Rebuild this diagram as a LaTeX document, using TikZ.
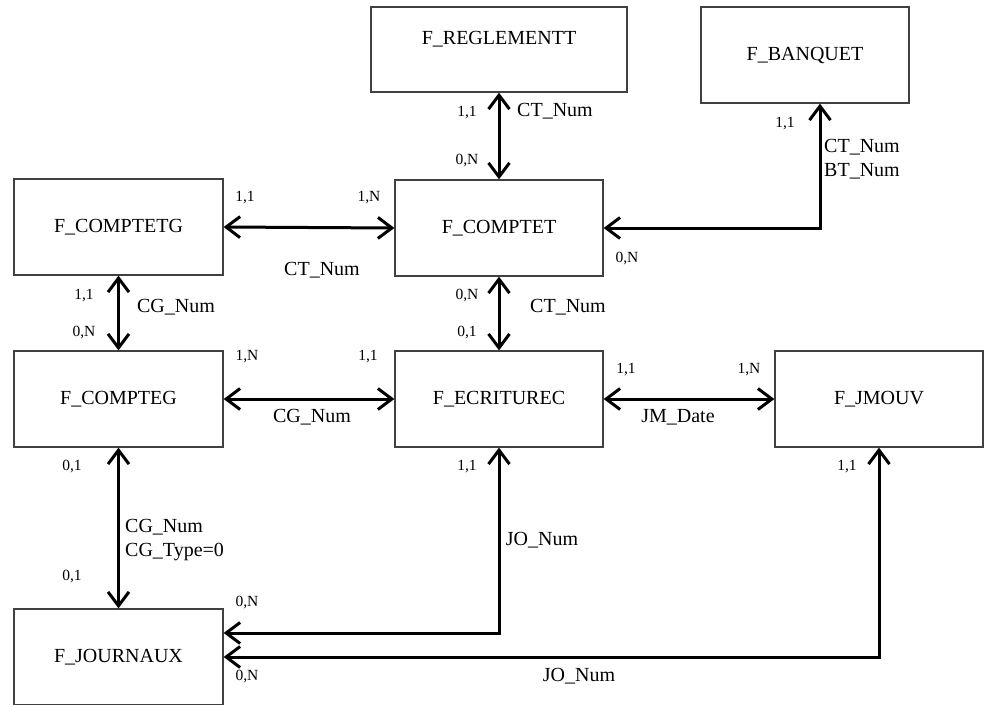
\documentclass[tikz,border=0pt]{standalone}
\usepackage{fontspec}
\setmainfont{Liberation Serif}
\usetikzlibrary{arrows.meta}
\tikzset{
  table/.style={draw=black!75, line width=1.2pt, rectangle, minimum width=209pt, minimum height=96pt, font=\fontsize{20}{22}\selectfont},
  card/.style={inner sep=0pt, font=\fontsize{15.5}{16}\selectfont},
  attr/.style={inner sep=0pt, font=\fontsize{20}{24}\selectfont, align=left},
  link/.style={line width=3pt, {Straight Barb[length=14pt,width=21pt]}-{Straight Barb[length=14pt,width=21pt]}},
}
\begin{document}
\begin{tikzpicture}[x=1pt,y=-1pt]
\useasboundingbox (0,0) rectangle (984,704);
\node[table, minimum width=256pt, minimum height=85pt, text depth=23pt] (reg) at (499,49.5) {F\_REGLEMENTT};
\node[table, minimum width=208pt] (banq) at (805,55) {F\_BANQUET};
\node[table] (ctg) at (118.5,227) {F\_COMPTETG};
\node[table, minimum width=208pt] (ct) at (499,228) {F\_COMPTET};
\node[table] (cg) at (118.5,399) {F\_COMPTEG};
\node[table, minimum width=208pt] (ec) at (499,399) {F\_ECRITUREC};
\node[table, minimum width=208pt] (jm) at (879,399) {F\_JMOUV};
\node[table] (jo) at (118.5,657) {F\_JOURNAUX};

\path[draw,link] (reg.south) -- (ct.north);
\path[draw,link] ([xshift=15pt]banq.south) |- (ct.east);
\path[draw,link] (ctg.east) -- (ct.west);
\path[draw,link] (ctg.south) -- (cg.north);
\path[draw,link] (ct.south) -- (ec.north);
\path[draw,link] (cg.east) -- (ec.west);
\path[draw,link] (ec.east) -- (jm.west);
\path[draw,link] (cg.south) -- (jo.north);
\path[draw,link] (ec.south) |- ([yshift=24pt]jo.east);
\path[draw,link] (jm.south) |- (jo.east);

\node[card] (c1) at (467,113) {1,1};
\node[card] (c2) at (467,161) {0,N};
\node[attr] (a1) at (555,111) {CT\_Num};
\node[card] (c3) at (785,124) {1,1};
\node[attr, anchor=west] (a2) at (824,159.5) {CT\_Num\\BT\_Num};
\node[card] (c4) at (627,259) {0,N};
\node[card] (c5) at (245,198) {1,1};
\node[card] (c6) at (369,198) {1,N};
\node[attr] (a3) at (322,270) {CT\_Num};
\node[card] (c7) at (84,296) {1,1};
\node[card] (c8) at (84,333) {0,N};
\node[attr] (a4) at (176,307) {CG\_Num};
\node[card] (c9) at (467,296) {0,N};
\node[card] (c10) at (467,333) {0,1};
\node[attr] (a5) at (568,307) {CT\_Num};
\node[card] (c11) at (247,357) {1,N};
\node[card] (c12) at (368,357) {1,1};
\node[attr] (a6) at (312,417) {CG\_Num};
\node[card] (c13) at (626,370) {1,1};
\node[card] (c14) at (749,370) {1,N};
\node[attr] (a7) at (678,417) {JM\_Date};
\node[card] (c15) at (72,467) {0,1};
\node[card] (c16) at (72,577) {0,1};
\node[attr, anchor=west] (a8) at (125,540.5) {CG\_Num\\CG\_Type=0};
\node[card] (c17) at (467,467) {1,1};
\node[attr] (a9) at (542,540) {JO\_Num};
\node[card] (c18) at (247,603) {0,N};
\node[card] (c19) at (847,467) {1,1};
\node[card] (c20) at (247,677) {0,N};
\node[attr] (a10) at (579,676) {JO\_Num};
\end{tikzpicture}
\end{document}
